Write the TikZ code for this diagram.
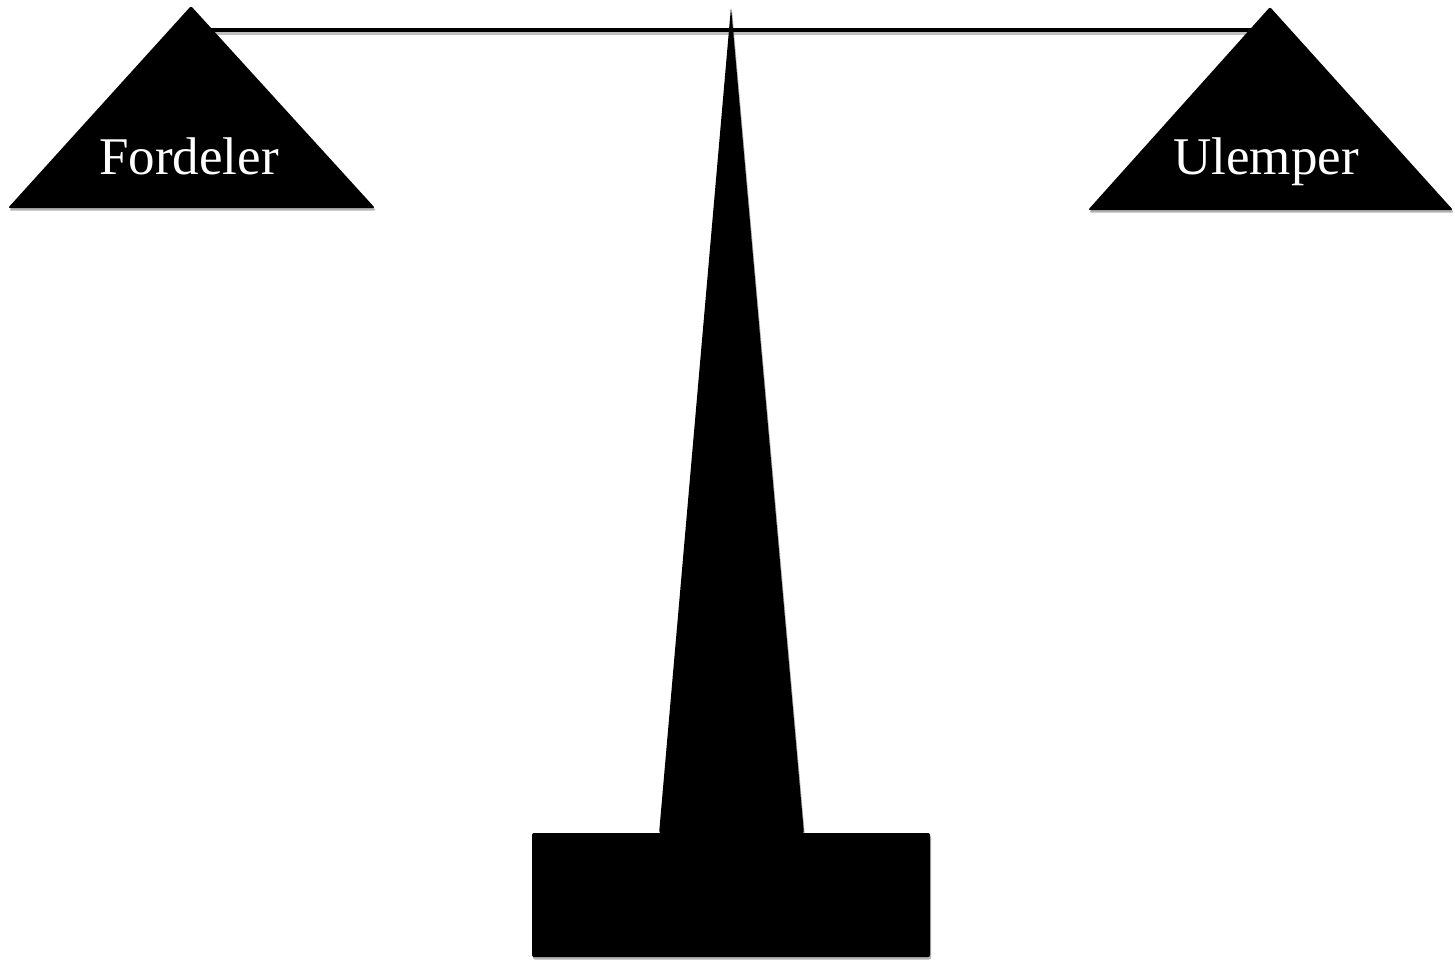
\documentclass[tikz,border=0pt]{standalone}
\usepackage{fontspec}
\setmainfont{Liberation Serif}
\usepackage{xcolor}
\definecolor{cInk}{HTML}{000000}
\definecolor{cPaper}{HTML}{FFFFFF}
\usetikzlibrary{positioning,shadows}
\tikzset{
  part-solid/.style={fill=cInk,draw=none,rounded corners=2pt,
    drop shadow={shadow xshift=1pt,shadow yshift=-2.5pt,opacity=0.3,fill=black}},
  node-pan-text/.style={text=cPaper,font=\fontsize{53}{60}\selectfont,
    anchor=base,inner sep=0pt},
  beam-line/.style={draw=cInk,line width=4pt},
}

\begin{document}
\begin{tikzpicture}[x=1pt,y=-1pt]
  \useasboundingbox[fill=cPaper] (0,0) rectangle (1455,962);
  % beam between the pans
  \coordinate (pan-l-top) at (191,6);
  \coordinate (pan-r-top) at (1270,7);
  \coordinate (beam-l) at (pan-l-top |- 0,30);
  \coordinate (beam-r) at (pan-r-top |- 0,30);
  \draw[black!25,line width=4pt] ([shift={(1,3)}]beam-l) -- ([shift={(1,3)}]beam-r);
  \draw[beam-line] (beam-l) -- (beam-r);
  % pans
  \path[part-solid] (8,208) -- (pan-l-top) -- (375,208) -- cycle;
  \path[part-solid] (1088,210) -- (pan-r-top) -- (1453,210) -- cycle;
  % post and foot
  \path[part-solid,rounded corners=3pt] (659,834) -- (731,7) -- (804,834) -- cycle;
  \path[part-solid] (532,833) rectangle (930,957);
  \fill[cInk] (662,825) -- (801,825) -- (801,840) -- (662,840) -- cycle;
  \node[node-pan-text] (fordeler) at (189,174) {Fordeler};
  \node[node-pan-text] (ulemper) at (1266,174) {Ulemper};
\end{tikzpicture}
\end{document}
